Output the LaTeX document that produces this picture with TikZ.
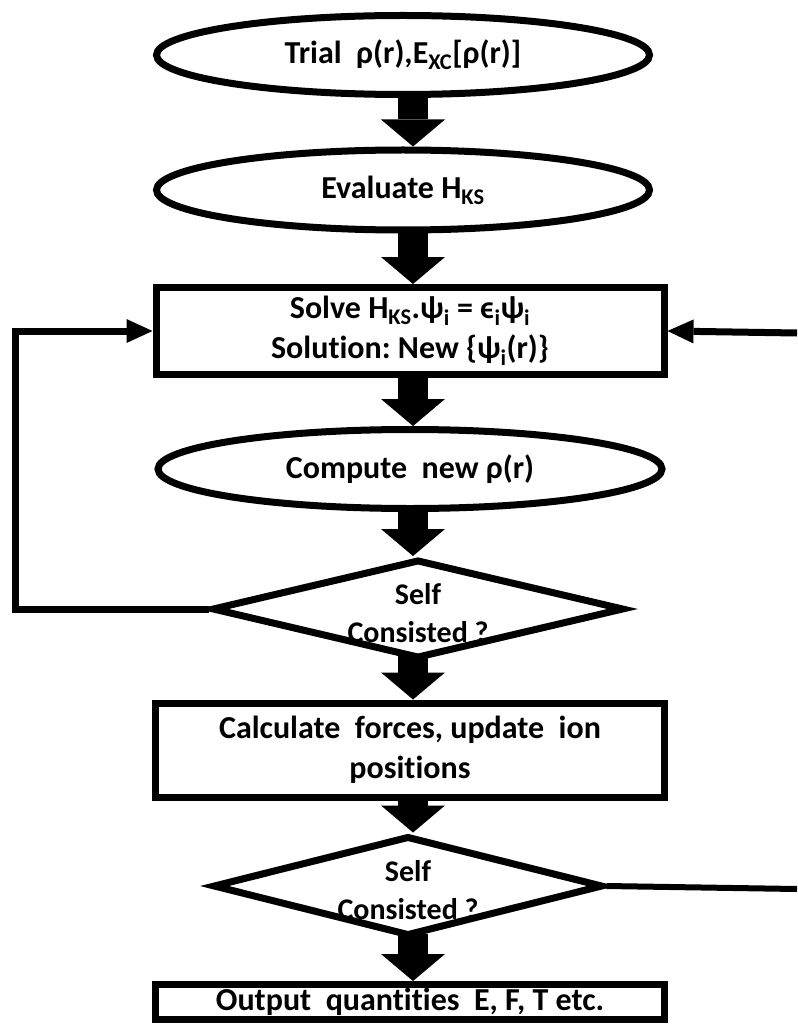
\documentclass[tikz,border=0pt]{standalone}
\usepackage{fontspec}
\setmainfont{Carlito}[Ligatures={NoCommon}]
\usetikzlibrary{arrows.meta,shapes.geometric}
\newcommand{\lsub}[1]{\textsubscript{#1}}
\begin{document}
\begin{tikzpicture}[x=1pt,y=-1pt,
  figshape/.style={draw, line width=7pt, inner sep=0pt, align=center},
  txt/.style={font=\bfseries\fontsize{32}{40}\selectfont, align=center},
  dtxt/.style={font=\bfseries\fontsize{30}{38}\selectfont, align=center},
  oval/.style={figshape, ellipse, txt},
  sbox/.style={figshape, rectangle, txt},
  dia/.style={figshape, diamond},
  fat/.style={line width=30pt, shorten <=-6pt, -{Triangle[width=64pt,length=27pt,line width=0pt]}},
  loopline/.style={line width=7pt, -{Triangle[width=24pt,length=26pt,line width=0pt]}}
]
\useasboundingbox (0,0) rectangle (797,1024);

\node[oval, minimum width=493pt, minimum height=79pt] (e1) at (403,55) {Trial\ \ ρ(r),E\lsub{XC}[ρ(r)]};
\node[oval, minimum width=493pt, minimum height=80pt] (e2) at (403,190) {Evaluate\ H\lsub{KS}};
\node[sbox, minimum width=508pt, minimum height=87pt] (b1) at (410,331) {Solve H\lsub{KS}.ψ\lsub{i} = ϵ\lsub{i}ψ\lsub{i}\\Solution:\ New {\{}ψ\lsub{i}(r){\}}};
\node[oval, minimum width=504pt, minimum height=79pt] (e3) at (410,469) {Compute\ \ new ρ(r)};
\node[dia, minimum width=412pt, minimum height=99pt] (d1) at (418,609) {};
\node[dtxt] (t1) at (418,613) {Self\\Consisted ?};
\node[sbox, minimum width=509pt, minimum height=94pt] (b2) at (410,750) {Calculate\ \ forces, update\ \ ion\\positions};
\node[dia, minimum width=390pt, minimum height=100pt] (d2) at (408,886) {};
\node[dtxt] (t2) at (408,890) {Self\\Consisted ?};
\node[sbox, minimum width=509pt, minimum height=35pt] (b3) at (410,1002) {Output\ \ quantities\ \ E, F, T etc.};

\coordinate (ax) at (413,0);
\coordinate (lx) at (15,0);
\coordinate (rin) at (797,333);
\coordinate (rout) at (797,889);

\draw[fat] (e1.south -| ax) -- (e2.north -| ax);
\draw[fat] (e2.south -| ax) -- (b1.north -| ax);
\draw[fat] (b1.south -| ax) -- (e3.north -| ax);
\draw[fat] (e3.south -| ax) -- (d1.north -| ax);
\draw[fat] (d1.south -| ax) -- (b2.north -| ax);
\draw[fat] (b2.south -| ax) -- (d2.north -| ax);
\draw[fat] (d2.south -| ax) -- (b3.north -| ax);

\draw[loopline] (d1.west) -- (d1.west -| lx) |- (b1.west);
\draw[loopline] (rin) -- (b1.east);
\draw[line width=6pt] (d2.east) -- (rout);
\end{tikzpicture}
\end{document}
